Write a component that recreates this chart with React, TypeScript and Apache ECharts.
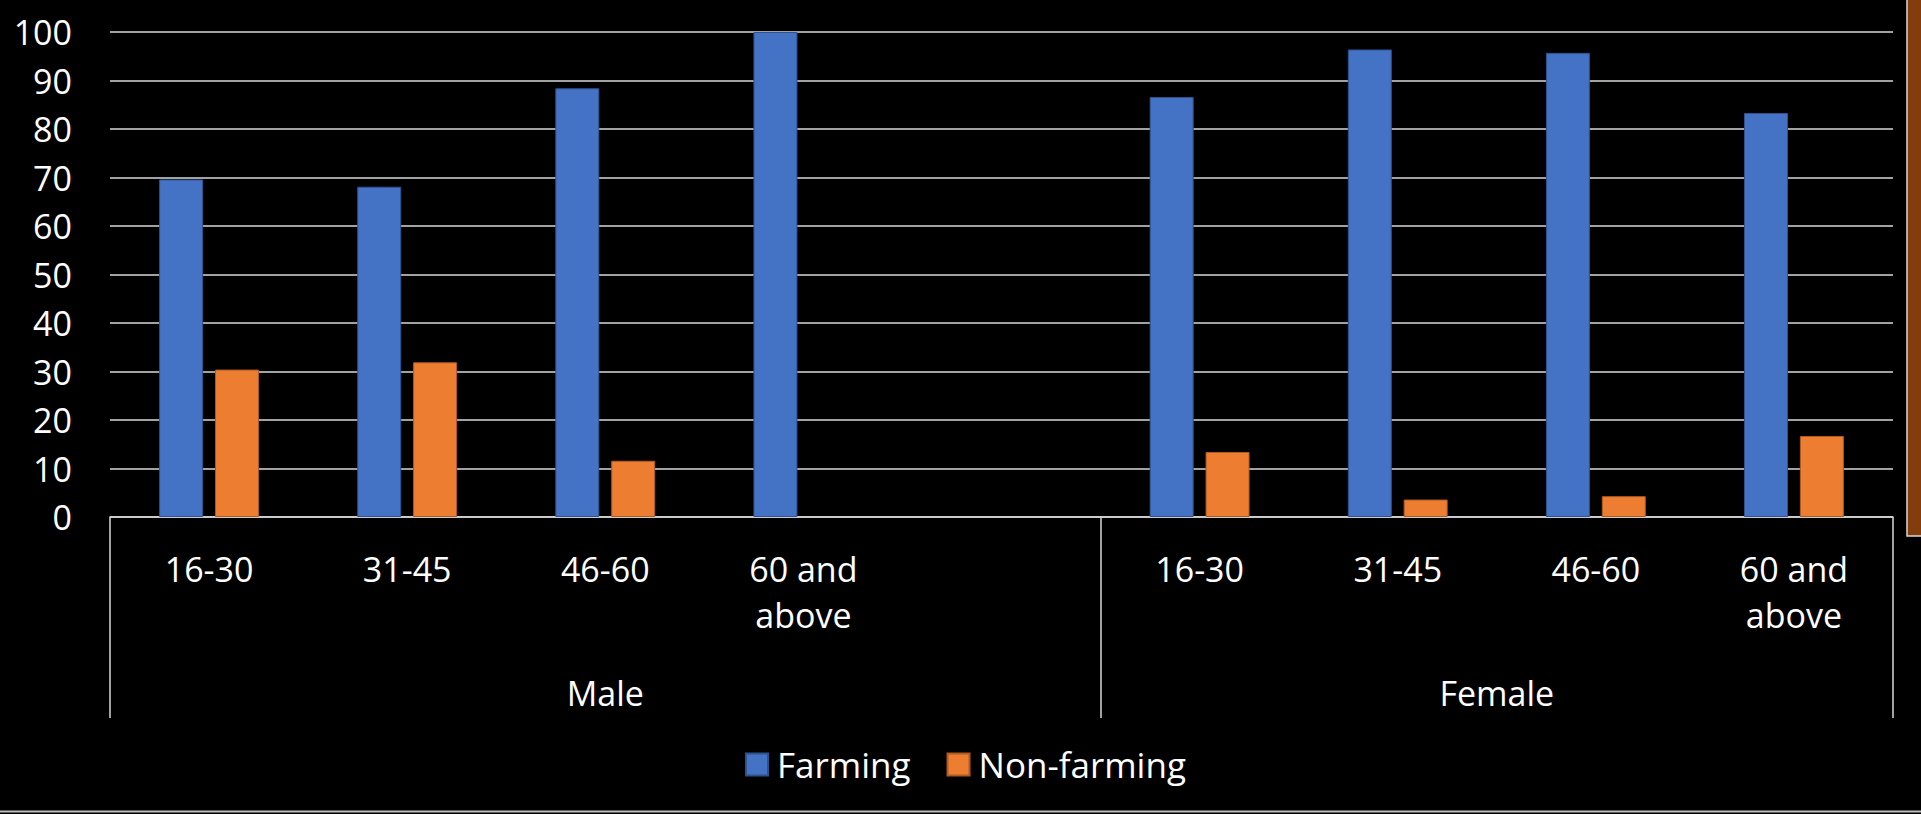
import React, { useEffect, useRef } from 'react';
import * as echarts from 'echarts';

// Category slots along the x axis (one blank slot separates the two genders)
const ageGroups = ['16-30', '31-45', '46-60', '60 and above', '', '16-30', '31-45', '46-60', '60 and above'];
const genderGroups = ['Male', 'Female'];
const genderSlots = [5, 4];
const seriesNames = ['Farming', 'Non-farming'];
const farming = [69.6, 68.1, 88.4, 100, null, 86.6, 96.4, 95.7, 83.3];
const nonFarming = [30.4, 31.9, 11.6, 0, null, 13.4, 3.6, 4.3, 16.7];
const yMin = 0;
const yMax = 100;
const yStep = 10;

const FONT = '"Open Sans", "Noto Sans", sans-serif';
const LINE = '#D9D9D9';

const toBarData = (arr: (number | null)[]) =>
  arr.map((v) => (v === 0 ? { value: v, itemStyle: { borderWidth: 0 } } : v));

export default function App() {
  const ref = useRef<HTMLDivElement>(null);

  useEffect(() => {
    document.body.style.margin = '0';
    document.body.style.background = '#000';
    if (!ref.current) return;
    const chart = echarts.init(ref.current, undefined, { renderer: 'svg' });

    const boundaries: number[] = [0];
    genderSlots.forEach((n) => boundaries.push(boundaries[boundaries.length - 1] + n));
    const centers = genderGroups.map((_, i) => (boundaries[i] + boundaries[i + 1]) / 2);

    chart.setOption({
      animation: false,
      backgroundColor: '#000',
      textStyle: { fontFamily: FONT },
      grid: { left: 110, right: 28, top: 32, bottom: 297 },
      legend: {
        data: seriesNames,
        icon: 'rect',
        itemWidth: 22,
        itemHeight: 22,
        itemGap: 36,
        left: 740,
        top: 742,
        textStyle: { color: '#fff', fontSize: 35, fontFamily: FONT, padding: [0, 0, 0, 4] },
      },
      xAxis: [
        {
          type: 'category',
          data: ageGroups,
          position: 'bottom',
          axisLine: { show: true, lineStyle: { color: LINE, width: 1.5 } },
          axisTick: { show: false },
          splitLine: { show: false },
          axisLabel: {
            color: '#fff',
            fontSize: 34,
            lineHeight: 46,
            margin: 29,
            interval: 0,
            fontFamily: FONT,
            formatter: (v: string) => v.replace(' and ', ' and\n'),
          },
        },
        {
          type: 'value',
          min: boundaries[0],
          max: boundaries[boundaries.length - 1],
          position: 'bottom',
          axisLine: { show: false },
          splitLine: { show: false },
          axisTick: {
            show: true,
            customValues: boundaries,
            length: 201,
            lineStyle: { color: LINE, width: 1.5 },
          },
          axisLabel: {
            show: true,
            customValues: centers,
            color: '#fff',
            fontSize: 34,
            lineHeight: 46,
            margin: 153,
            fontFamily: FONT,
            formatter: (v: number) => {
              const i = centers.findIndex((c) => Math.abs(c - v) < 1e-6);
              return i >= 0 ? genderGroups[i] : '';
            },
          },
        },
      ],
      yAxis: {
        type: 'value',
        min: yMin,
        max: yMax,
        interval: yStep,
        axisLine: { show: false },
        axisTick: { show: false },
        axisLabel: { color: '#fff', fontSize: 34, margin: 38, fontFamily: FONT },
        splitLine: { show: true, lineStyle: { color: LINE, width: 1.5 } },
      },
      series: [
        {
          name: seriesNames[0],
          type: 'bar',
          xAxisIndex: 0,
          data: toBarData(farming),
          barWidth: 44,
          barGap: '27%',
          itemStyle: { color: '#4472C4', borderColor: '#2F528F', borderWidth: 1 },
        },
        {
          name: seriesNames[1],
          type: 'bar',
          xAxisIndex: 0,
          data: toBarData(nonFarming),
          barWidth: 44,
          barGap: '27%',
          itemStyle: { color: '#ED7D31', borderColor: '#AE5A21', borderWidth: 1 },
        },
      ],
      graphic: [
        {
          type: 'line',
          shape: { x1: 0, y1: 811.5, x2: 1921, y2: 811.5 },
          style: { stroke: '#BFBFBF', lineWidth: 2 },
          silent: true,
        },
        {
          type: 'rect',
          shape: { x: 1907, y: -3, width: 20, height: 539 },
          style: { fill: '#843C0C', stroke: LINE, lineWidth: 1.5 },
          silent: true,
        },
      ],
    });

    return () => chart.dispose();
  }, []);

  return <div ref={ref} style={{ position: 'absolute', left: 0, top: 0, width: 1921, height: 814 }} />;
}
